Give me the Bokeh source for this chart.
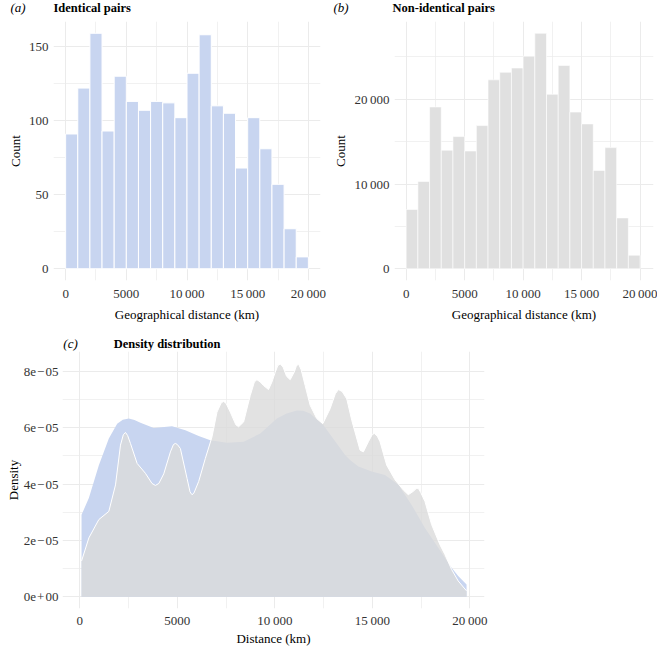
from bokeh.plotting import figure
from bokeh.models import FixedTicker, Range1d, CustomJSTickFormatter
from bokeh.layouts import column, row
from bokeh.core.properties import value
from bokeh.embed import file_html
from bokeh.resources import INLINE

SERIF = "Liberation Serif, Times New Roman, serif"

# ---------------- data ----------------
bin_left = [0, 1000, 2000, 3000, 4000, 5000, 6000, 7000, 8000, 9000,
            10000, 11000, 12000, 13000, 14000, 15000, 16000, 17000, 18000, 19000]
bin_right = [1000, 2000, 3000, 4000, 5000, 6000, 7000, 8000, 9000, 10000,
             11000, 12000, 13000, 14000, 15000, 16000, 17000, 18000, 19000, 20000]
identical_counts = [91, 122, 159, 93, 130, 113, 107, 113, 112, 102,
                    132, 158, 110, 105, 68, 102, 81, 57, 27, 8]
nonidentical_counts = [7000, 10300, 19100, 14000, 15600, 13900, 16900, 22300, 23200, 23700,
                       25100, 27800, 20600, 24000, 18500, 17100, 11600, 14300, 6000, 1600]

dist_ticks = [0, 5000, 10000, 15000, 20000]
dist_tick_labels = ["0", "5000", "10\u2009000", "15\u2009000", "20\u2009000"]
dist_minor = [2500, 7500, 12500, 17500]

count_a_ticks = [0, 50, 100, 150]
count_a_labels = ["0", "50", "100", "150"]
count_a_minor = [25, 75, 125]

count_b_ticks = [0, 10000, 20000]
count_b_labels = ["0", "10\u2009000", "20\u2009000"]
count_b_minor = [5000, 15000, 25000]

dens_ticks = [0, 2e-05, 4e-05, 6e-05, 8e-05]
dens_labels = ["0e\u200a+\u200a00", "2e\u200a\u2212\u200a05", "4e\u200a\u2212\u200a05",
               "6e\u200a\u2212\u200a05", "8e\u200a\u2212\u200a05"]
dens_minor = [1e-05, 3e-05, 5e-05, 7e-05]

panel_tags = ["(a)", "(b)", "(c)"]
panel_titles = ["Identical pairs", "Non-identical pairs", "Density distribution"]

identical_x = [87, 462, 974, 1486, 1913, 2200, 2510, 2800, 3107, 3790, 4728, 5411, 6093,
               6690, 7544, 8397, 9250, 10103, 10600, 11127, 11450, 11810, 12492, 13175,
               13601, 13857, 14284, 14966, 15649, 16331, 17014, 17697, 18379, 19062,
               19402, 19830]
identical_density = [2.91e-5, 3.50e-5, 4.67e-5, 5.61e-5, 6.14e-5, 6.28e-5, 6.32e-5, 6.27e-5,
                     6.17e-5, 5.99e-5, 6.05e-5, 5.91e-5, 5.70e-5, 5.55e-5, 5.46e-5, 5.50e-5,
                     5.79e-5, 6.32e-5, 6.50e-5, 6.61e-5, 6.60e-5, 6.50e-5, 6.08e-5, 5.44e-5,
                     5.03e-5, 4.85e-5, 4.62e-5, 4.44e-5, 4.32e-5, 3.97e-5, 3.26e-5, 2.44e-5,
                     1.74e-5, 1.03e-5, 0.74e-5, 0.44e-5]

nonidentical_x = [87, 462, 974, 1486, 1828, 2083, 2230, 2339, 2450, 2595, 2937, 3363, 3700,
                  3875, 4050, 4302, 4643, 4800, 4899, 5000, 5155, 5496, 5650, 5752, 5850,
                  6093, 6435, 6776, 7032, 7250, 7373, 7500, 7714, 8000, 8141, 8397, 8738,
                  8950, 9080, 9250, 9421, 9676, 9850, 10018, 10150, 10274, 10420, 10600,
                  10786, 11000, 11100, 11212, 11350, 11554, 11810, 12151, 12458, 12833,
                  13100, 13260, 13450, 13687, 13943, 14369, 14540, 14796, 15000, 15103,
                  15250, 15393, 15734, 16161, 16587, 16843, 17099, 17250, 17355, 17480,
                  17697, 18038, 18464, 18720, 19062, 19402, 19830]
nonidentical_density = [1.27e-5, 2.09e-5, 2.74e-5, 3.03e-5, 3.97e-5, 5.38e-5, 5.75e-5, 5.83e-5,
                        5.72e-5, 5.44e-5, 4.73e-5, 4.38e-5, 4.02e-5, 3.95e-5, 4.02e-5, 4.36e-5,
                        5.14e-5, 5.40e-5, 5.44e-5, 5.40e-5, 5.26e-5, 4.20e-5, 3.72e-5, 3.62e-5,
                        3.68e-5, 4.09e-5, 4.91e-5, 5.67e-5, 6.55e-5, 6.88e-5, 6.93e-5, 6.86e-5,
                        6.55e-5, 6.10e-5, 6.03e-5, 6.20e-5, 7.14e-5, 7.62e-5, 7.70e-5, 7.62e-5,
                        7.49e-5, 7.35e-5, 7.62e-5, 7.96e-5, 8.20e-5, 8.26e-5, 8.15e-5, 7.82e-5,
                        7.70e-5, 7.98e-5, 8.18e-5, 8.26e-5, 8.05e-5, 7.49e-5, 6.79e-5, 6.32e-5,
                        6.14e-5, 6.67e-5, 7.20e-5, 7.35e-5, 7.28e-5, 7.02e-5, 6.26e-5, 5.20e-5,
                        5.14e-5, 5.50e-5, 5.76e-5, 5.79e-5, 5.70e-5, 5.50e-5, 4.67e-5, 4.15e-5,
                        3.79e-5, 3.62e-5, 3.74e-5, 3.84e-5, 3.85e-5, 3.70e-5, 3.38e-5, 2.56e-5,
                        1.85e-5, 1.50e-5, 0.97e-5, 0.56e-5, 0.21e-5]

# ---------------- style ----------------
BLUE = "#c8d5f0"
GREY_HIST = "#e0e0e0"
GREY_DENS = "#dbdbdb"
GRID = "#ebebeb"
TICK_COLOR = "#333333"


def make_fig(fw, fh, xr, yr, ml, mr, mb, lab_standoff=5, title_standoff=3):
    p = figure(frame_width=fw, frame_height=fh, x_range=Range1d(*xr), y_range=Range1d(*yr),
               output_backend="svg", toolbar_location=None, title=None,
               min_border_left=ml, min_border_right=mr,
               min_border_top=0, min_border_bottom=mb)
    p.outline_line_color = None
    p.background_fill_color = "white"
    p.border_fill_color = "white"
    p.grid.grid_line_color = GRID
    p.grid.grid_line_width = 1
    p.grid.minor_grid_line_color = GRID
    p.grid.minor_grid_line_width = 0.7
    for ax in p.axis:
        ax.axis_line_color = None
        ax.major_tick_line_color = None
        ax.minor_tick_line_color = None
        ax.major_tick_out = 0
        ax.major_tick_in = 0
        ax.minor_tick_out = 0
        ax.minor_tick_in = 0
        ax.major_label_text_font = SERIF
        ax.major_label_text_font_size = "13px"
        ax.major_label_text_color = TICK_COLOR
        ax.axis_label_text_font = SERIF
        ax.axis_label_text_font_size = "13px"
        ax.axis_label_text_font_style = "normal"
        ax.axis_label_text_color = "#000000"
        ax.major_label_standoff = lab_standoff
        ax.axis_label_standoff = title_standoff
    return p


def set_ticks(axis, ticks, minor, labels):
    axis.ticker = FixedTicker(ticks=ticks, minor_ticks=minor)
    axis.formatter = CustomJSTickFormatter(
        args=dict(tvals=ticks, tlabels=labels),
        code="""
        for (let i = 0; i < tvals.length; i++) {
            if (Math.abs(tvals[i] - tick) <= 1e-9 * Math.max(1, Math.abs(tick))) return tlabels[i];
        }
        return '';
        """)


def title_strip(width, height, tag, title, tag_x, title_x, text_y):
    # a frameless strip (pixel-unit ranges) carrying a panel tag and title
    s = figure(width=width, height=height, x_range=Range1d(0, width), y_range=Range1d(0, height),
               output_backend="svg", toolbar_location=None, title=None,
               x_axis_location=None, y_axis_location=None, min_border=0)
    s.outline_line_color = None
    s.grid.visible = False
    s.text(x=[tag_x], y=[height - text_y], text=[tag], text_font=value(SERIF),
           text_font_style="italic", text_font_size="13px", text_baseline="middle",
           text_align="left", text_color="#000000")
    s.text(x=[title_x], y=[height - text_y], text=[title], text_font=value(SERIF),
           text_font_style="bold", text_font_size="12.5px", text_baseline="middle",
           text_align="left", text_color="#000000")
    return s


# ---------------- panel (a) ----------------
xr_a = (-1000, 21000)
yr_a = (-7.95, 166.95)
pa = make_fig(267, 259, xr_a, yr_a, 53, 10, 43)
pa.quad(left=bin_left, right=bin_right, bottom=0, top=identical_counts,
        fill_color=BLUE, line_color="white", line_width=1)
set_ticks(pa.xaxis[0], dist_ticks, dist_minor, dist_tick_labels)
set_ticks(pa.yaxis[0], count_a_ticks, count_a_minor, count_a_labels)
pa.xaxis.axis_label = "Geographical distance (km)"
pa.yaxis.axis_label = "Count"
ta = title_strip(330, 21, panel_tags[0], panel_titles[0], 10, 53, 7)

# ---------------- panel (b) ----------------
xr_b = (-1000, 21150)
yr_b = (-1390, 29190)
pb = make_fig(259, 259, xr_b, yr_b, 62, 6, 43)
pb.quad(left=bin_left, right=bin_right, bottom=0, top=nonidentical_counts,
        fill_color=GREY_HIST, line_color="white", line_width=0.6)
set_ticks(pb.xaxis[0], dist_ticks, dist_minor, dist_tick_labels)
set_ticks(pb.yaxis[0], count_b_ticks, count_b_minor, count_b_labels)
pb.xaxis.axis_label = "Geographical distance (km)"
pb.yaxis.axis_label = "Count"
tb = title_strip(327, 21, panel_tags[1], panel_titles[1], 3, 62, 7)

# ---------------- panel (c) ----------------
xr_c = (-890, 20750)
yr_c = (-0.415e-5, 8.7e-5)
pc = make_fig(422, 257, xr_c, yr_c, 62, 10, 39, lab_standoff=4, title_standoff=0)
pc.varea(x=identical_x, y1=0, y2=identical_density, fill_color=BLUE)
pc.varea(x=nonidentical_x, y1=0, y2=nonidentical_density, fill_color=GREY_DENS, fill_alpha=0.8)
pc.line(x=nonidentical_x, y=nonidentical_density, line_color="white", line_width=1)
set_ticks(pc.xaxis[0], dist_ticks, dist_minor, dist_tick_labels)
set_ticks(pc.yaxis[0], dens_ticks, dens_minor, dens_labels)
pc.xaxis.axis_label = "Distance (km)"
pc.yaxis.axis_label = "Density"
tc = title_strip(494, 27, panel_tags[2], panel_titles[2], 1, 60, 19)

layout = column(row(ta, tb, spacing=0), row(pa, pb, spacing=0), tc, pc, spacing=0)

open("out.html", "w").write(file_html(layout, INLINE))
